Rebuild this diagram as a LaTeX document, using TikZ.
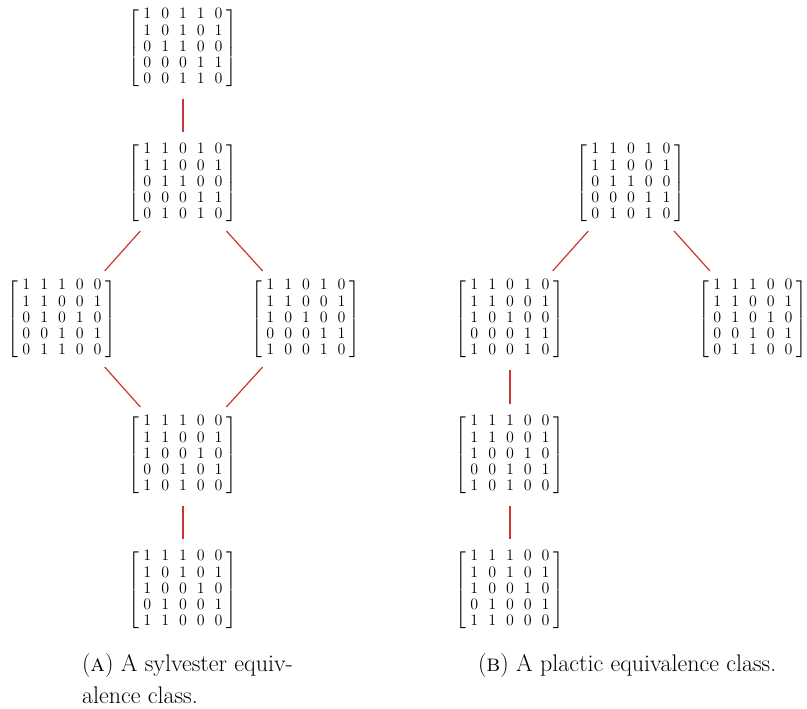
\documentclass[tikz,border=0pt]{standalone}
\usepackage{amsmath}
\usepackage{fontspec}
\usepackage{graphicx}
\usepackage{xcolor}
\usepackage{tikz}
\definecolor{edgered}{HTML}{CC3333}

\begin{document}
\begin{tikzpicture}[
  x=1pt,
  y=-1pt,
  every node/.style={
    inner sep=0pt,
    outer sep=0pt
  },
  mat/.style={
    font=\fontsize{14.4}{17}\selectfont
  },
  link/.style={
    draw=edgered,
    line width=1.2pt,
    shorten <=10pt,
    shorten >=10pt
  },
  caption/.style={
    anchor=base west,
    align=left,
    font=\fontsize{24}{32}\selectfont
  }
]
\setlength{\arraycolsep}{4.5pt}
\renewcommand{\arraystretch}{0.86}

\path[use as bounding box] (0,0) rectangle (807,709);

% Sylvester class
\node[mat] (s1) at (183,48) {\scalebox{1.11}{$\left[\;\begin{matrix}1&0&1&1&0\\1&0&1&0&1\\0&1&1&0&0\\0&0&0&1&1\\0&0&1&1&0\end{matrix}\;\right]$}};
\node[mat] (s2) at (183,183) {\scalebox{1.11}{$\left[\;\begin{matrix}1&1&0&1&0\\1&1&0&0&1\\0&1&1&0&0\\0&0&0&1&1\\0&1&0&1&0\end{matrix}\;\right]$}};
\node[mat] (s3) at (62,319) {\scalebox{1.11}{$\left[\;\begin{matrix}1&1&1&0&0\\1&1&0&0&1\\0&1&0&1&0\\0&0&1&0&1\\0&1&1&0&0\end{matrix}\;\right]$}};
\node[mat] (s4) at (306,319) {\scalebox{1.11}{$\left[\;\begin{matrix}1&1&0&1&0\\1&1&0&0&1\\1&0&1&0&0\\0&0&0&1&1\\1&0&0&1&0\end{matrix}\;\right]$}};
\node[mat] (s5) at (183,455) {\scalebox{1.11}{$\left[\;\begin{matrix}1&1&1&0&0\\1&1&0&0&1\\1&0&0&1&0\\0&0&1&0&1\\1&0&1&0&0\end{matrix}\;\right]$}};
\node[mat] (s6) at (183,590) {\scalebox{1.11}{$\left[\;\begin{matrix}1&1&1&0&0\\1&0&1&0&1\\1&0&0&1&0\\0&1&0&0&1\\1&1&0&0&0\end{matrix}\;\right]$}};

% Plactic class
\node[mat] (p1) at (631,183) {\scalebox{1.11}{$\left[\;\begin{matrix}1&1&0&1&0\\1&1&0&0&1\\0&1&1&0&0\\0&0&0&1&1\\0&1&0&1&0\end{matrix}\;\right]$}};
\node[mat] (p2) at (510,319) {\scalebox{1.11}{$\left[\;\begin{matrix}1&1&0&1&0\\1&1&0&0&1\\1&0&1&0&0\\0&0&0&1&1\\1&0&0&1&0\end{matrix}\;\right]$}};
\node[mat] (p3) at (753,319) {\scalebox{1.11}{$\left[\;\begin{matrix}1&1&1&0&0\\1&1&0&0&1\\0&1&0&1&0\\0&0&1&0&1\\0&1&1&0&0\end{matrix}\;\right]$}};
\node[mat] (p4) at (510,455) {\scalebox{1.11}{$\left[\;\begin{matrix}1&1&1&0&0\\1&1&0&0&1\\1&0&0&1&0\\0&0&1&0&1\\1&0&1&0&0\end{matrix}\;\right]$}};
\node[mat] (p5) at (510,590) {\scalebox{1.11}{$\left[\;\begin{matrix}1&1&1&0&0\\1&0&1&0&1\\1&0&0&1&0\\0&1&0&0&1\\1&1&0&0&0\end{matrix}\;\right]$}};

% Edges
\draw[link] (s1) -- (s2);
\draw[link] (s2) -- (s3);
\draw[link] (s2) -- (s4);
\draw[link] (s3) -- (s5);
\draw[link] (s4) -- (s5);
\draw[link] (s5) -- (s6);

\draw[link] (p1) -- (p2);
\draw[link] (p1) -- (p3);
\draw[link] (p2) -- (p4);
\draw[link] (p4) -- (p5);

% Captions
\node[caption] (capa) at (82,703) {(\textsc{a}) A sylvester equiv-\\alence class.};
\node[caption] (capb) at (478,671) {(\textsc{b}) A plactic equivalence class.};

\end{tikzpicture}
\end{document}
